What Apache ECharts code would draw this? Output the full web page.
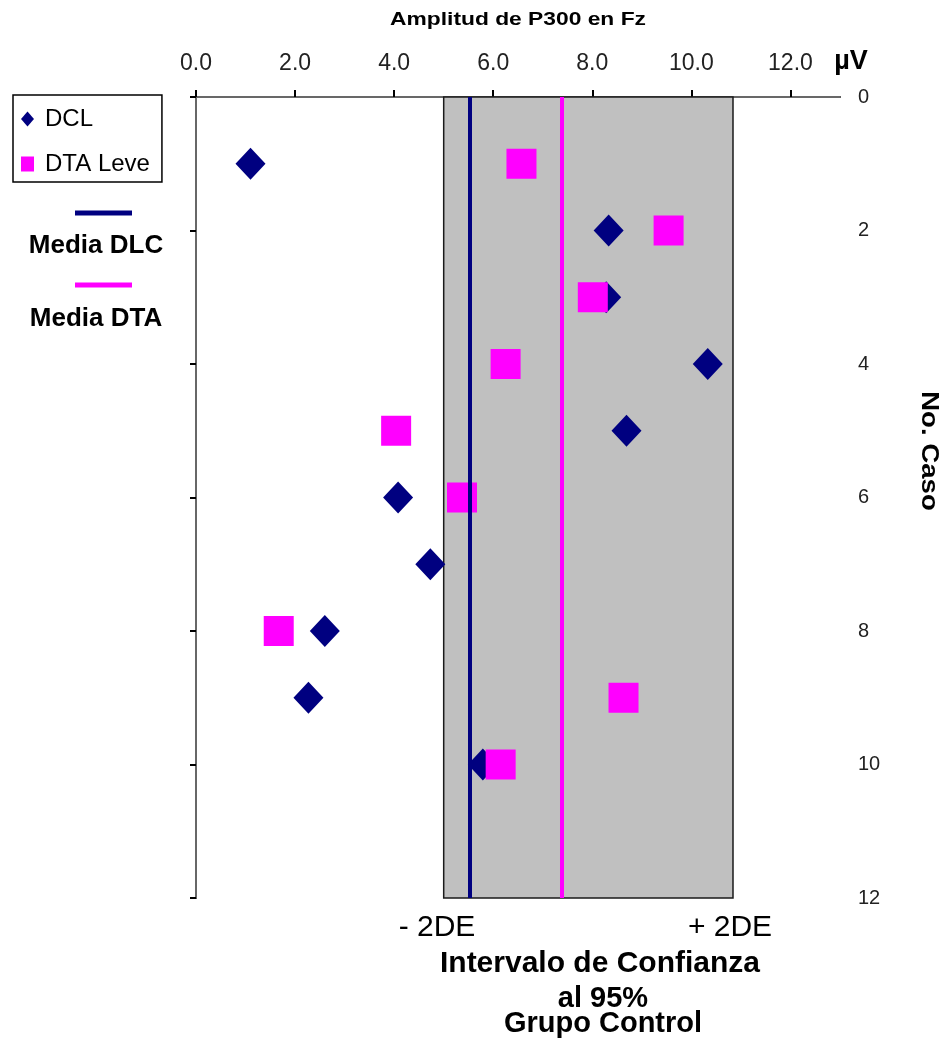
<!DOCTYPE html>
<html>
<head>
<meta charset="utf-8">
<title>Amplitud de P300 en Fz</title>
<script src="https://cdn.jsdelivr.net/npm/echarts@6/dist/echarts.min.js"></script>
<style>
  html, body { margin: 0; padding: 0; background: #ffffff; }
  #chart { width: 947px; height: 1041px; }
</style>
</head>
<body>
<div id="chart"></div>
<script>
// Case numbers (vertical axis) and P300 amplitude at Fz in µV (horizontal axis)
const cases = [1, 2, 3, 4, 5, 6, 7, 8, 9, 10];
const dclValues = [1.10, 8.33, 8.28, 10.33, 8.69, 4.08, 4.73, 2.60, 2.27, 5.79];
const dtaValues = [6.57, 9.54, 8.01, 6.25, 4.04, 5.37, null, 1.67, 8.63, 6.15];

// Group means and the control group's 95% interval (mean ± 2 SD)
const meanDLC = 5.53;
const meanDTA = 7.38;
const ciLow = 5.0;
const ciHigh = 10.84;

// Axis ticks
const amplitudeTicks = [0, 2, 4, 6, 8, 10, 12];
const caseTicks = [0, 2, 4, 6, 8, 10, 12];

const NAVY = '#000080';
const MAGENTA = '#ff00ff';
const FONT = '"Liberation Sans", Arial, sans-serif';

const pairs = (vals) => cases
  .map((c, i) => (vals[i] == null ? null : [vals[i], c]))
  .filter(Boolean);

const chart = echarts.init(document.getElementById('chart'), null, { renderer: 'canvas' });

chart.setOption({
  animation: false,
  backgroundColor: '#ffffff',
  textStyle: { fontFamily: FONT },
  grid: { left: 196, right: 107, top: 97, bottom: 143, containLabel: false },
  legend: {
    orient: 'vertical',
    left: 13,
    top: 95,
    data: [
      { name: 'DCL', icon: 'diamond' },
      { name: 'DTA Leve', icon: 'rect' }
    ],
    itemWidth: 13,
    itemHeight: 15,
    itemGap: 19,
    padding: [11, 12, 5, 8],
    borderColor: '#000000',
    borderWidth: 1.5,
    borderRadius: 0,
    backgroundColor: '#ffffff',
    selectedMode: false,
    textStyle: { fontSize: 24, color: '#000000', fontFamily: FONT, padding: [0, 0, 0, 6], lineHeight: 26 }
  },
  xAxis: [
    {
      type: 'value',
      position: 'top',
      min: 0,
      max: 13,
      axisLine: { show: true, lineStyle: { color: '#000000', width: 2 } },
      axisTick: { show: true, customValues: amplitudeTicks, length: 7, lineStyle: { color: '#000000', width: 2 } },
      axisLabel: {
        customValues: amplitudeTicks,
        formatter: (v) => v.toFixed(1),
        fontSize: 23,
        color: '#222222',
        margin: 22,
        fontFamily: FONT
      },
      splitLine: { show: false }
    },
    {
      type: 'value',
      position: 'bottom',
      min: 0,
      max: 13,
      axisLine: { show: true, lineStyle: { color: '#8a8a8a', width: 1.5 } },
      axisTick: { show: false },
      axisLabel: { show: false },
      splitLine: { show: false }
    }
  ],
  yAxis: [
    {
      type: 'value',
      position: 'left',
      inverse: true,
      min: 0,
      max: 12,
      interval: 2,
      axisLine: { show: true, lineStyle: { color: '#000000', width: 2 } },
      axisTick: { show: true, length: 6, lineStyle: { color: '#000000', width: 2 } },
      axisLabel: { show: false },
      splitLine: { show: false }
    },
    {
      type: 'value',
      position: 'right',
      inverse: true,
      min: 0,
      max: 12,
      interval: 2,
      axisLine: { show: true, lineStyle: { color: '#8a8a8a', width: 1.5 } },
      axisTick: { show: false },
      axisLabel: { fontSize: 20, color: '#222222', margin: 18, fontFamily: FONT },
      splitLine: { show: false }
    }
  ],
  series: [
    {
      // control interval band and the two group means
      name: 'Intervalo',
      type: 'scatter',
      xAxisIndex: 0,
      yAxisIndex: 0,
      data: [],
      z: 1,
      silent: true,
      markArea: {
        silent: true,
        itemStyle: { color: '#c0c0c0', borderColor: '#1a1a1a', borderWidth: 1.5 },
        data: [[{ xAxis: ciLow }, { xAxis: ciHigh }]]
      },
      markLine: {
        silent: true,
        symbol: 'none',
        label: { show: false },
        data: [
          { xAxis: meanDLC, lineStyle: { color: NAVY, width: 4, type: 'solid' } },
          { xAxis: meanDTA, lineStyle: { color: MAGENTA, width: 4, type: 'solid' } }
        ]
      }
    },
    {
      name: 'DCL',
      type: 'scatter',
      xAxisIndex: 0,
      yAxisIndex: 0,
      symbol: 'diamond',
      symbolSize: [30, 32],
      itemStyle: { color: NAVY, opacity: 1 },
      z: 3,
      data: pairs(dclValues)
    },
    {
      name: 'DTA Leve',
      type: 'scatter',
      xAxisIndex: 0,
      yAxisIndex: 0,
      symbol: 'rect',
      symbolSize: 30,
      itemStyle: { color: MAGENTA, opacity: 1 },
      z: 4,
      data: pairs(dtaValues)
    }
  ],
  graphic: [
    {
      type: 'text', x: 518, y: 20, scaleX: 1.2,
      style: { text: 'Amplitud de P300 en Fz', fontSize: 19, fontWeight: 'bold', fontFamily: FONT, fill: '#000000', align: 'center', verticalAlign: 'middle' }
    },
    {
      type: 'text', x: 851, y: 62,
      style: { text: 'µV', fontSize: 27, fontWeight: 'bold', fontFamily: FONT, fill: '#000000', align: 'center', verticalAlign: 'middle' }
    },
    {
      type: 'text', x: 929, y: 451, rotation: -Math.PI / 2, scaleX: 1.15,
      style: { text: 'No. Caso', fontSize: 24, fontWeight: 'bold', fontFamily: FONT, fill: '#000000', align: 'center', verticalAlign: 'middle' }
    },
    {
      type: 'line', shape: { x1: 75, y1: 213, x2: 132, y2: 213 },
      style: { stroke: NAVY, lineWidth: 5 }
    },
    {
      type: 'text', x: 96, y: 246,
      style: { text: 'Media DLC', fontSize: 26, fontWeight: 'bold', fontFamily: FONT, fill: '#000000', align: 'center', verticalAlign: 'middle' }
    },
    {
      type: 'line', shape: { x1: 75, y1: 285, x2: 132, y2: 285 },
      style: { stroke: MAGENTA, lineWidth: 5 }
    },
    {
      type: 'text', x: 96, y: 319,
      style: { text: 'Media DTA', fontSize: 26, fontWeight: 'bold', fontFamily: FONT, fill: '#000000', align: 'center', verticalAlign: 'middle' }
    },
    {
      type: 'text', x: 437, y: 928,
      style: { text: '- 2DE', fontSize: 30, fontFamily: FONT, fill: '#000000', align: 'center', verticalAlign: 'middle' }
    },
    {
      type: 'text', x: 730, y: 928,
      style: { text: '+ 2DE', fontSize: 30, fontFamily: FONT, fill: '#000000', align: 'center', verticalAlign: 'middle' }
    },
    {
      type: 'text', x: 600, y: 964,
      style: { text: 'Intervalo de Confianza', fontSize: 30, fontWeight: 'bold', fontFamily: FONT, fill: '#000000', align: 'center', verticalAlign: 'middle' }
    },
    {
      type: 'text', x: 603, y: 999,
      style: { text: 'al 95%', fontSize: 29, fontWeight: 'bold', fontFamily: FONT, fill: '#000000', align: 'center', verticalAlign: 'middle' }
    },
    {
      type: 'text', x: 603, y: 1024,
      style: { text: 'Grupo Control', fontSize: 29, fontWeight: 'bold', fontFamily: FONT, fill: '#000000', align: 'center', verticalAlign: 'middle' }
    }
  ]
});
</script>
</body>
</html>
